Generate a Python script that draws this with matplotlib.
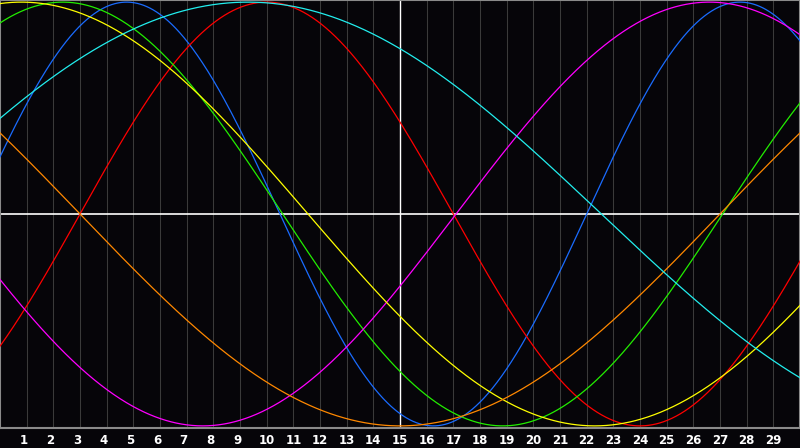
import matplotlib
matplotlib.use("Agg")
import matplotlib.pyplot as plt
import matplotlib.transforms as mtransforms
import numpy as np

# Biorhythm-style cycles: period (days), day of peak, colour
names = ["physical", "emotional", "intellectual", "intuitive", "aesthetic", "awareness", "spiritual"]
periods = [23, 28, 33, 38, 43, 48, 53]
peak_days = [4.75, 10.0, 2.35, 26.6, 0.8, 39.0, 9.3]
colors = ["#1a6cff", "#ff0000", "#22ee00", "#ff00ff", "#ffff00", "#ff8800", "#22eeee"]

days = list(range(1, 30))
day_labels = [str(d) for d in days]
highlight_day = 15

BG = "#060509"

fig = plt.figure(figsize=(8, 4.48), dpi=100, facecolor=BG)
ax = fig.add_axes([0, 20 / 448, 1, 428 / 448], facecolor=BG)
ax.set_xlim(0, 30)
ax.set_ylim(-1.01, 1.01)

# day grid
for d in days:
    ax.axvline(d, color="#3a3a3a", lw=0.75, zorder=1)
ax.axvline(highlight_day, color="white", lw=1.0, zorder=2)
ax.axhline(0, color="white", lw=1.2, zorder=2)

t = np.linspace(0, 30, 1500)
for p, pk, c in zip(periods, peak_days, colors):
    y = np.cos(2 * np.pi * (t - pk) / p)
    ax.plot(t, y, color=c, lw=0.9, zorder=3)

for s in ax.spines.values():
    s.set_color("#8a8a8a")
    s.set_linewidth(1.5)

ax.set_yticks([])
ax.set_xticks(days, day_labels)
ax.tick_params(axis="x", length=0, pad=4, colors="white", labelsize=8.5)
for lab in ax.get_xticklabels():
    lab.set_fontweight("bold")
    if len(lab.get_text()) == 1:
        lab.set_transform(lab.get_transform() + mtransforms.ScaledTranslation(-3 / 100, 0, fig.dpi_scale_trans))

fig.savefig("out.png", dpi=100, facecolor=BG)
